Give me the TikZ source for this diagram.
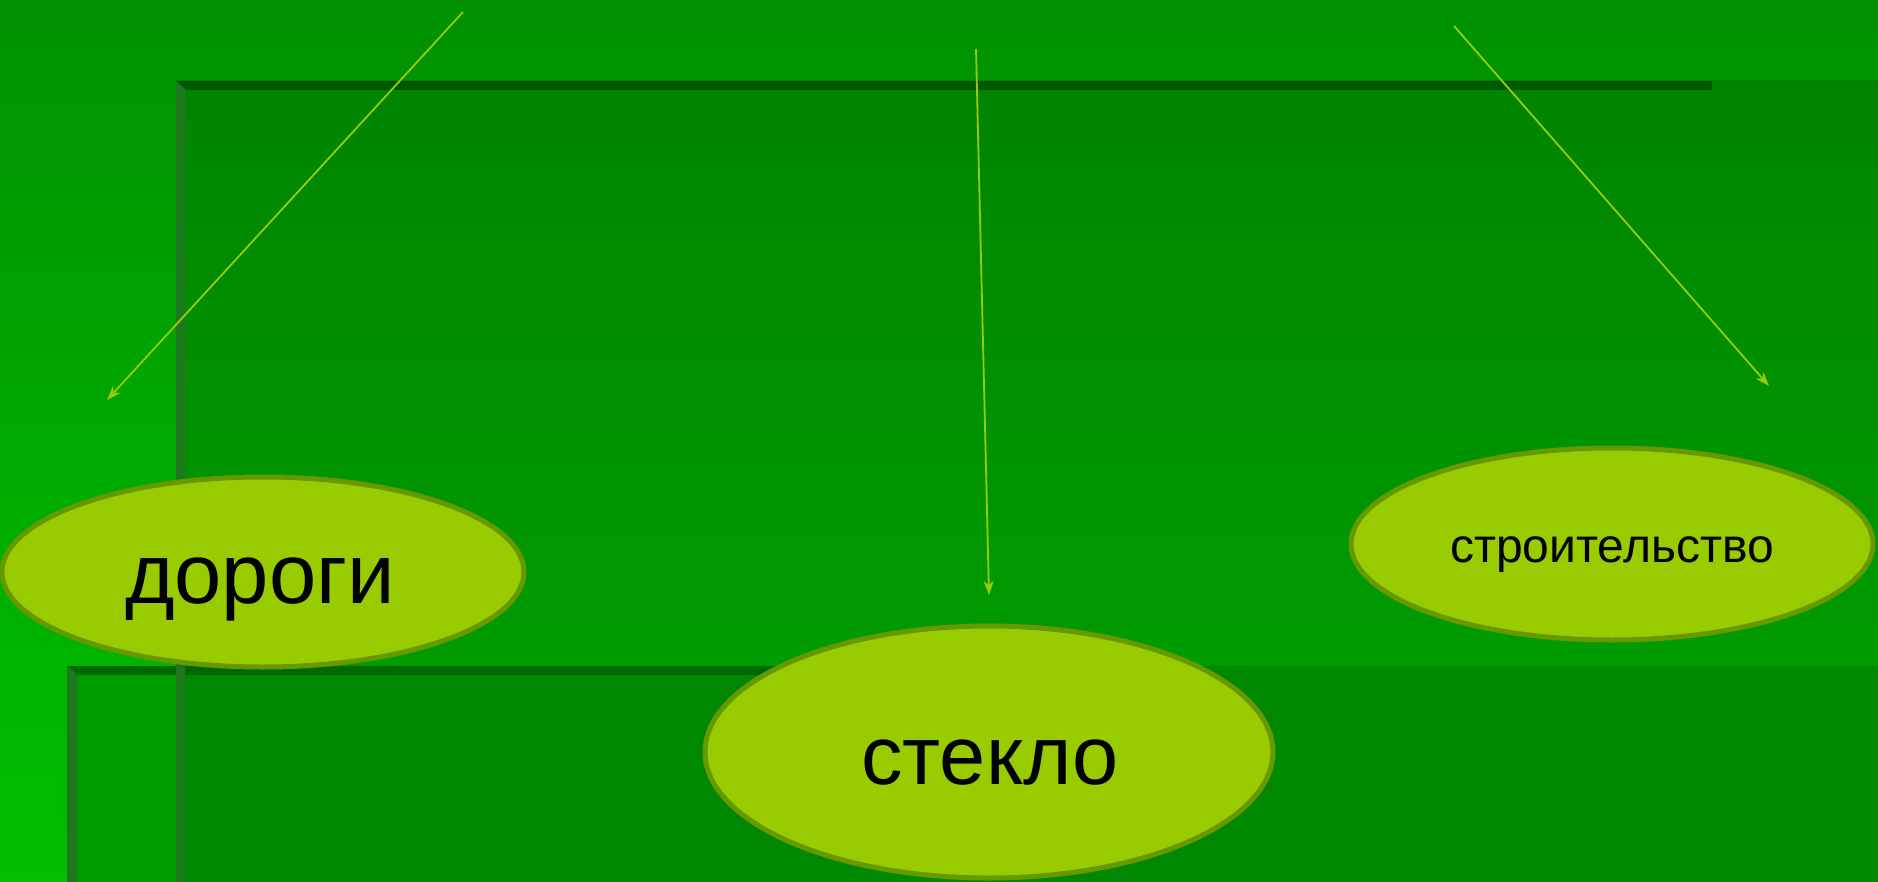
\documentclass[tikz,border=0pt]{standalone}
\usepackage{fontspec}
\setmainfont{Liberation Sans}
\usetikzlibrary{shapes.geometric,arrows.meta}
\definecolor{bgtop}{RGB}{0,145,0}
\definecolor{bgbot}{RGB}{0,192,0}
\definecolor{ponetop}{RGB}{0,132,0}
\definecolor{ponebot}{RGB}{0,156,0}
\definecolor{ptwo}{RGB}{0,136,0}
\definecolor{ptwoleft}{RGB}{0,158,0}
\definecolor{darkstrip}{RGB}{0,88,0}
\definecolor{darkstriptwo}{RGB}{0,104,0}
\definecolor{sidestrip}{RGB}{30,120,30}
\definecolor{ellfill}{RGB}{153,204,0}
\definecolor{elldraw}{RGB}{102,153,0}
\tikzset{
  bubble/.style={ellipse, fill=ellfill, draw=elldraw, line width=5pt, inner sep=0pt},
  bubbletext/.style={anchor=base, inner sep=0pt, text=black},
  pointer/.style={draw=ellfill, line width=1.8pt, -{Stealth[length=14pt,width=10pt,inset=4pt]}}
}
\begin{document}
\begin{tikzpicture}[x=1pt,y=-1pt]
\useasboundingbox (0,0) rectangle (1878,882);
% outer background
\shade[top color=bgtop, bottom color=bgbot] (0,0) rectangle (1878,882);
% panel one
\shade[top color=ponetop, bottom color=ponebot] (176,81) rectangle (1878,667);
\fill[darkstrip] (176,81) rectangle (1712,90);
% panel two
\fill[ptwo] (67,666) rectangle (1878,882);
\fill[ptwoleft] (77,666) rectangle (176,882);
\fill[darkstriptwo] (67,666) rectangle (900,675);
\fill[sidestrip] (67,666) -- (77,674) -- (77,882) -- (67,882) -- cycle;
\fill[sidestrip] (176,81) -- (185,89) -- (185,882) -- (176,882) -- cycle;
% ellipses
\node[bubble, minimum width=522pt, minimum height=190pt] (roads) at (263,572) {};
\node[bubble, minimum width=568pt, minimum height=252pt] (glass) at (989,752) {};
\node[bubble, minimum width=522pt, minimum height=192pt] (build) at (1612,544) {};
\node[bubbletext] (roadst) at (260,603) {\fontsize{85}{100}\selectfont дороги};
\node[bubbletext] (glasst) at (990,784) {\fontsize{83}{100}\selectfont стекло};
\node[bubbletext] (buildt) at (1612,562) {\fontsize{48}{58}\selectfont строительство};
% arrows
\coordinate (a1s) at (463,12);
\coordinate (a1e) at (107,400);
\coordinate (a2s) at (976,49);
\coordinate (a2e) at (989,595);
\coordinate (a3s) at (1454,26);
\coordinate (a3e) at (1769,386);
\draw[pointer] (a1s) -- (a1e);
\draw[pointer] (a2s) -- (a2e);
\draw[pointer] (a3s) -- (a3e);
\end{tikzpicture}
\end{document}
